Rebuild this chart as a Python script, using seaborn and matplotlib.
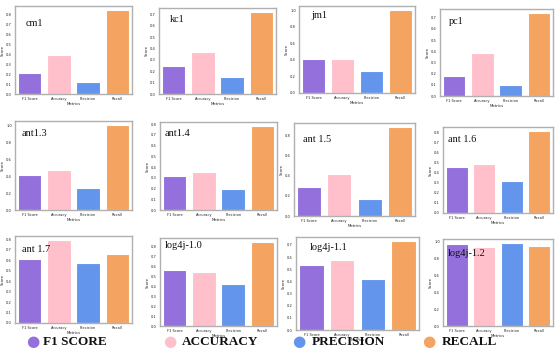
import matplotlib
matplotlib.use("Agg")
import matplotlib.pyplot as plt
import seaborn as sns
import pandas as pd

sns.set_theme(style="white")
plt.rcParams['font.family'] = ['DejaVu Sans']

metrics = ["F1 Score", "Accuracy", "Precision", "Recall"]
legend_labels = ["F1 SCORE", "ACCURACY", "PRECISION", "RECALL"]
colors = ["#9370DB", "#FFC0CB", "#6495ED", "#F4A460"]

datasets = ["cm1", "kc1", "jm1", "pc1",
            "ant1.3", "ant1.4", "ant 1.5", "ant 1.6",
            "ant 1.7", "log4j-1.0", "log4j-1.1", "log4j-1.2"]

cm1 = [0.21, 0.39, 0.12, 0.84]
kc1 = [0.25, 0.37, 0.15, 0.72]
jm1 = [0.41, 0.405, 0.26, 1.0]
pc1 = [0.18, 0.38, 0.10, 0.74]
ant13 = [0.41, 0.47, 0.26, 1.0]
ant14 = [0.32, 0.355, 0.20, 0.78]
ant15 = [0.285, 0.41, 0.17, 0.875]
ant16 = [0.46, 0.487, 0.318, 0.818]
ant17 = [0.613, 0.79, 0.575, 0.657]
log4j10 = [0.56, 0.54, 0.42, 0.845]
log4j11 = [0.536, 0.577, 0.42, 0.728]
log4j12 = [0.965, 0.933, 0.98, 0.945]

values = [cm1, kc1, jm1, pc1, ant13, ant14, ant15, ant16,
          ant17, log4j10, log4j11, log4j12]

W, H = 555, 354
# axes boxes in pixels: left, top, right, bottom
boxes = [
    (15, 6, 132, 94), (159, 8, 276, 94), (299, 6, 415, 93), (440, 9, 553, 96),
    (15, 121, 132, 210), (160, 122, 277, 210), (294, 123, 415, 216), (443, 127, 553, 213),
    (15, 236, 132, 323), (160, 238, 277, 326), (296, 237, 419, 330), (443, 239, 553, 326),
]
# title anchor (left x, centre y) in pixels
title_px = [
    (26, 23), (170, 19), (311, 16), (449, 21),
    (22, 134), (165, 134), (303, 139), (448, 139),
    (22, 250), (165, 246), (310, 248), (448, 254),
]

fig = plt.figure(figsize=(W / 100, H / 100), dpi=100)
for name, vals, (l, t, r, b), (tx, ty) in zip(datasets, values, boxes, title_px):
    ax = fig.add_axes([l / W, 1 - b / H, (r - l) / W, (b - t) / H])
    df = pd.DataFrame({"Metrics": metrics, "Score": vals})
    sns.barplot(data=df, x="Metrics", y="Score", hue="Metrics", palette=colors,
                saturation=1, legend=False, ax=ax, edgecolor="white",
                linewidth=0.8, width=0.8)
    ax.tick_params(labelsize=2.6, length=1.2, width=0.3, pad=1)
    ax.set_xlabel("Metrics", fontsize=2.8, labelpad=1)
    ax.set_ylabel("Score", fontsize=2.8, labelpad=1)
    for s in ax.spines.values():
        s.set_edgecolor("#b0b0b0")
        s.set_linewidth(1.0)
    fig.text(tx / W, 1 - ty / H, name, fontsize=7.4,
             family=["Liberation Serif"], ha="left", va="center", color="#111111")

legend_px = [(33, 43), (170, 182), (299, 312), (429, 442)]
for (cx, tx), lab, c in zip(legend_px, legend_labels, colors):
    fig.text(cx / W, 1 - 342 / H, "\u25CF", color=c, fontsize=11,
             ha="center", va="center")
    fig.text(tx / W, 1 - 342 / H, lab, fontsize=9.5, fontweight="bold",
             family=["Liberation Serif"], ha="left", va="center", color="#111111")

fig.savefig("out.png", dpi=100, facecolor="white")
